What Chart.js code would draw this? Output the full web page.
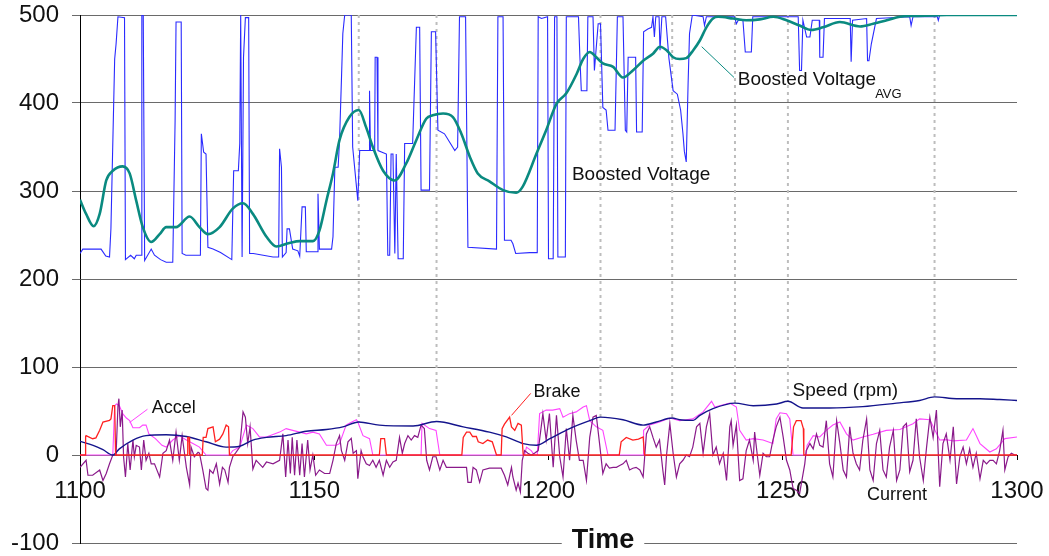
<!DOCTYPE html>
<html>
<head>
<meta charset="utf-8">
<script src="https://cdn.jsdelivr.net/npm/chart.js@4.4.0/dist/chart.umd.min.js"></script>
<style>
  html, body { margin: 0; padding: 0; background: #fff; }
  canvas { display: block; }
</style>
</head>
<body>
<canvas id="chart" width="1049" height="556"></canvas>
<script>
// [time, value] pairs
const boostedVoltage = [
  [1100.0,229],[1100.6,234],[1104.5,234],[1105.5,226],[1106.3,225],[1106.6,257],[1107.0,354],[1107.4,450],[1107.7,467],[1108.1,498],
  [1109.5,497],[1109.7,222],[1110.8,227],[1111.6,223],[1112.0,227],[1113.1,227],[1113.2,500],[1113.5,500],[1113.8,221],[1115.2,234],
  [1115.9,227],[1117.2,222],[1118.4,219],[1119.8,219],[1120.3,380],[1120.5,492],[1121.6,492],[1121.8,229],[1122.6,227],[1125.7,227],
  [1125.9,365],[1126.4,344],[1126.9,342],[1127.3,236],[1128.4,234],[1130.0,230],[1132.4,222],[1132.8,323],[1133.8,323],[1134.1,354],
  [1134.3,500],[1134.6,225],[1134.9,452],[1135.3,497],[1136.0,497],[1136.2,229],[1137.0,229],[1141.2,225],[1142.4,225],[1142.6,348],
  [1143.0,327],[1143.2,225],[1144.0,230],[1144.2,257],[1144.7,257],[1145.4,234],[1146.5,232],[1146.9,226],[1147.4,282],[1148.1,282],
  [1148.3,231],[1150.6,231],[1150.8,297],[1151.1,234],[1153.7,234],[1154.0,248],[1154.4,327],[1155.1,327],[1155.4,358],[1155.8,426],
  [1156.1,479],[1156.5,500],[1157.9,500],[1158.2,350],[1159.3,289],[1159.7,346],[1161.7,346],[1161.8,414],[1162.0,346],[1162.9,346],
  [1163.0,452],[1163.4,452],[1163.6,346],[1165.4,342],[1165.7,227],[1166.1,227],[1166.4,342],[1166.8,342],[1167.2,229],[1167.5,342],
  [1167.9,223],[1169.0,223],[1169.3,354],[1171.0,354],[1171.8,486],[1172.5,486],[1172.8,301],[1174.6,301],[1175.0,481],[1175.9,481],
  [1176.4,369],[1177.8,365],[1180.0,346],[1180.6,350],[1181.0,498],[1182.3,498],[1182.8,236],[1188.9,234],[1189.2,498],[1190.3,498],
  [1190.6,244],[1192.0,244],[1192.4,240],[1193.0,229],[1196.0,230],[1197.6,230],[1197.8,498],[1198.5,496],[1199.8,498],[1200.0,223],
  [1201.0,223],[1201.3,498],[1201.8,498],[1202.0,225],[1203.6,225],[1203.8,498],[1206.4,498],[1206.7,452],[1207.0,414],[1208.2,414],
  [1208.4,498],[1209.5,498],[1209.8,437],[1210.6,490],[1211.1,490],[1211.6,395],[1212.3,392],[1212.7,369],[1214.2,369],[1214.7,498],
  [1215.9,498],[1216.4,369],[1216.7,367],[1217.0,452],[1218.6,452],[1218.8,367],[1220.0,367],[1220.3,481],[1221.2,484],[1222.0,486],
  [1222.3,498],[1222.6,475],[1222.9,498],[1223.6,498],[1223.8,460],[1224.2,498],[1225.0,498],[1225.7,451],[1226.6,414],[1227.5,410],
  [1228.2,392],[1228.7,365],[1229.0,345],[1229.4,333],[1229.8,423],[1230.1,479],[1230.7,500],[1233.0,498],[1233.3,488],[1233.7,498],
  [1239.7,498],[1240.1,490],[1240.5,494],[1241.5,494],[1242.0,458],[1243.3,458],[1243.6,498],[1253.3,498],[1253.6,437],[1254.0,437],
  [1254.3,494],[1255.1,475],[1255.8,475],[1256.3,494],[1257.8,494],[1257.9,452],[1258.6,452],[1258.9,496],[1264.4,496],[1264.6,447],
  [1264.9,494],[1267.9,496],[1268.1,448],[1268.4,448],[1268.9,467],[1270.0,496],[1277.1,498],[1277.4,488],[1277.8,498],[1283.0,498],
  [1283.2,494],[1283.5,500],[1300.0,500]
];

const boostedVoltageAvg = [
  [1100,290],[1101.3,274],[1102.9,260],[1104.2,274],[1105.6,312],[1107,323],[1109.1,328],[1110.6,320],[1112,289],[1113.4,259],
  [1115.2,242],[1117,251],[1118.4,259],[1120.5,259],[1123.4,271],[1125.5,259],[1127.3,251],[1129.8,259],[1132.6,280],[1134.8,286],
  [1136.9,274],[1139.8,248],[1141.9,237],[1144.7,241],[1146.9,243],[1149.7,243],[1151.1,255],[1152.6,289],[1154,320],[1155.4,358],
  [1157.5,384],[1159.5,392],[1161.1,372],[1162.5,350],[1164.7,323],[1167.2,312],[1169.6,331],[1171.8,358],[1173.9,382],[1175.3,386],
  [1177.5,388],[1179.6,384],[1181.4,365],[1183.2,339],[1184.9,320],[1187.4,311],[1190.3,301],[1193.1,298],[1194.5,305],[1197.4,342],
  [1199.5,369],[1201.7,399],[1203.8,411],[1206,433],[1207.4,450],[1208.8,458],[1210.2,452],[1211.6,445],[1213.8,441],[1215.9,429],
  [1218,437],[1220.2,448],[1222.3,456],[1223.8,464],[1225.2,460],[1226.6,452],[1228,450],[1229.4,451],[1230.9,460],[1232.3,471],
  [1233.7,486],[1235.1,496],[1236.2,498],[1239.4,496],[1242.2,494],[1245.1,495],[1248,498],[1250.8,494],[1253.6,488],[1256.1,483],
  [1258.6,486],[1262.2,492],[1266.5,487],[1269.3,490],[1272.2,494],[1275,498],[1277.8,499],[1282.1,499.5],[1285,500],[1300,500]
];

const speedRpm = [
  [1100,15.5],[1102.8,11],[1104.9,6],[1107,0],[1108.4,7],[1111.3,17],[1114.1,22],[1118.4,23],[1122.7,21],[1126.9,15],
  [1131.2,9],[1134.1,10],[1136.9,17],[1139.8,20],[1144,22],[1148.3,27],[1152.6,29],[1156.1,32],[1159.5,37.5],[1163.9,34],
  [1171.1,33],[1176.1,38],[1181.8,32],[1187.4,26],[1191,20.5],[1194.6,13],[1197.4,11],[1200.3,18.5],[1204.5,30],[1208.8,39],
  [1211.1,43],[1215.9,40],[1220.2,34],[1223,37.5],[1226.4,42],[1228,40],[1230.9,39.4],[1232.3,45],[1235.1,52.7],[1239.8,59],
  [1243.7,56],[1248.7,58],[1251.1,61],[1254.3,53.4],[1260,53.4],[1267.1,55],[1274.3,59],[1279.2,62],[1282.4,66],[1287.1,64],
  [1292.1,64],[1296.3,63],[1300,62]
];

const brake = [
  [1100,0],[1101.1,0],[1101.2,21],[1101.3,22],[1102.7,18.5],[1103.4,19.5],[1104.2,28],[1104.9,37.5],[1106.3,39.4],[1106.6,41],
  [1107.0,56],[1107.4,56],[1107.6,0],[1122.9,0],[1123.0,20],[1123.3,20],[1123.4,0],[1126.1,0],[1126.3,20],[1126.9,20],
  [1127.3,30],[1128.4,32],[1128.9,15],[1129.8,18],[1130.5,24],[1131.2,34],[1131.7,32],[1131.9,0],[1163.9,0],[1164.2,18.5],
  [1165.0,18.5],[1165.4,0],[1181.5,0],[1181.8,20],[1182.5,26],[1183.2,26],[1183.8,21],[1184.6,21],[1185.0,15],[1186.0,13],
  [1187.0,17],[1188.0,15],[1188.9,0],[1189.9,0],[1190.1,30],[1190.6,35],[1191.7,43],[1192.1,32],[1192.8,28],[1193.5,36],
  [1194.2,34],[1194.6,0],[1215.1,0],[1215.5,15],[1216.6,20],[1218.0,17],[1219.2,18],[1220.2,20.5],[1220.5,0],[1251.8,0],
  [1252.3,32],[1252.9,39],[1253.9,39],[1254.4,30],[1254.5,0],[1300,0]
];

const accel = [
  [1100,0],[1107.0,0],[1107.4,56],[1107.8,58],[1108.4,56],[1109.1,47],[1109.9,42],[1110.6,39],[1111.3,31],[1112.7,31],
  [1113.4,34],[1114.1,34],[1114.7,24],[1116.1,18.6],[1117.5,11],[1118.4,9],[1119.8,17],[1121.2,22],[1122.7,17],[1124.1,13],
  [1125.5,9],[1126.9,0],[1131.9,0],[1132.6,5],[1134.1,9],[1135.5,34],[1136.9,30],[1138.3,20.5],[1139.8,20.5],[1142.6,26],
  [1144,30],[1145.4,28],[1146.9,26],[1148.3,24],[1149.7,26],[1151.1,24],[1152.6,11],[1154.7,11],[1155.4,13],[1156.8,34],
  [1157.5,36],[1159.0,40],[1159.3,37.5],[1160.4,22],[1161.8,18.6],[1162.5,0],[1172.8,0],[1173.0,36],[1174.6,30],[1176.0,28],
  [1176.8,0],[1194.9,0],[1195.3,9],[1196.3,5],[1197.0,0],[1197.6,0],[1198.1,47],[1199.5,51],[1200.9,51],[1202.4,52.7],
  [1203.1,43],[1204.5,47],[1205.9,49],[1207.4,54.5],[1208.1,56],[1208.8,39],[1210.2,32],[1211.6,28],[1212.7,0],[1220.2,0],
  [1220.3,28],[1221.6,34],[1223.7,37.5],[1225.9,42],[1228,39],[1230.8,41],[1233,49],[1234.8,61],[1235.5,54.5],[1236.5,56],
  [1238.7,59],[1240.1,54.5],[1240.8,28],[1242.2,17],[1243.7,18.6],[1245.8,17],[1247.9,13],[1248.6,41],[1249.4,48],[1250.8,47],
  [1251.5,41],[1252.2,0],[1255,0],[1255.2,11],[1256.5,22],[1257.9,20.5],[1259.3,28],[1260.7,34],[1262.2,37.5],[1263.6,24],
  [1265,17],[1267.1,20.5],[1269.3,23.5],[1272.1,28],[1275,29],[1277.8,35.6],[1279.2,41],[1281.4,40],[1283.5,17],[1284.9,17.5],
  [1286.4,16],[1289.2,17],[1290.6,30],[1292.1,13],[1294.2,3.4],[1295.6,7],[1297.4,18.6],[1300,20.5]
];

const current = [
  [1100.0,-14],[1101.3,-6],[1101.7,-23],[1102.7,-23],[1104.2,-17],[1104.9,-29],[1105.6,-21],[1106.3,-10],[1107.0,0],[1107.7,0],
  [1108.1,55],[1108.3,64],[1108.6,32],[1109.0,51],[1109.3,-2],[1109.7,-25],[1110.2,13],[1110.7,-17],[1111.3,17],[1111.6,-2],
  [1112.0,11],[1112.7,9],[1113.1,-17],[1113.6,17],[1114.1,-6],[1114.7,2],[1115.2,-10],[1115.9,-10],[1117.0,-25],[1117.7,2],
  [1118.4,5],[1119.1,17],[1119.8,-6],[1120.5,26],[1121.2,-6],[1121.8,22],[1122.3,2],[1122.7,-14],[1123.4,-34],[1123.7,9],
  [1124.4,-2],[1125.2,3],[1125.5,2],[1126.2,-17],[1126.9,-38],[1127.3,-40],[1127.7,-17],[1128.4,-21],[1129.1,-10],[1129.8,-33],
  [1130.4,-14],[1130.9,-17],[1131.6,-31],[1131.9,-14],[1132.6,-2],[1133.3,3],[1134.1,9],[1134.8,49],[1135.3,43],[1135.8,13],
  [1136.3,32],[1136.9,-16],[1137.6,-6],[1138.3,-10],[1139.0,-14],[1139.8,-8],[1141.2,-10],[1142.6,-6],[1143.3,24],[1143.9,-25],
  [1144.4,17],[1144.9,-21],[1145.3,20],[1145.8,-23],[1146.3,17],[1146.9,-23],[1147.4,13],[1147.9,-25],[1148.6,17],[1149.1,-17],
  [1149.7,0],[1150.3,-23],[1151.1,-17],[1152.2,-21],[1153.3,-21],[1154.0,-6],[1154.7,13],[1155.4,22],[1155.8,5],[1156.5,-6],
  [1157.2,15],[1157.9,19],[1158.3,2],[1159.0,5],[1159.3,-27],[1160.0,5],[1160.4,-2],[1161.1,-10],[1161.8,-12],[1162.5,-6],
  [1163.2,-14],[1163.9,-6],[1164.7,-23],[1165.4,-6],[1166.1,-14],[1166.8,-8],[1167.5,-6],[1168.2,20],[1168.8,2],[1169.3,13],
  [1170.0,22],[1170.7,17],[1171.4,22],[1172.1,20],[1172.8,34],[1173.5,30],[1174.0,-6],[1174.6,-17],[1175.3,-2],[1176.0,-2],
  [1176.8,-17],[1177.5,-6],[1178.2,-14],[1181.7,-14],[1182.5,-14],[1182.8,-31],[1183.5,-31],[1183.9,-14],[1184.6,-17],[1185.3,-31],
  [1186.0,-17],[1187.4,-15],[1189.9,-15],[1190.6,-23],[1191.3,-34],[1192.1,-14],[1192.4,-25],[1193.1,-40],[1193.5,-32],[1194.0,-42],
  [1194.4,-6],[1194.9,5],[1195.6,2],[1196.3,0],[1197.0,2],[1197.8,5],[1198.8,47],[1199.5,17],[1200.2,47],[1201.0,-14],
  [1201.7,45],[1202.4,-2],[1203.1,-25],[1203.8,30],[1204.5,-6],[1205.2,45],[1205.9,17],[1206.6,-6],[1207.4,-6],[1208.1,-29],
  [1208.8,20],[1209.5,43],[1210.2,45],[1210.9,13],[1211.6,-21],[1212.3,-10],[1213.0,-15],[1213.8,-14],[1214.5,-14],[1215.2,-12],
  [1215.9,-10],[1216.6,-6],[1217.3,-17],[1218.0,-15],[1218.7,-14],[1219.5,-17],[1220.2,-25],[1220.9,24],[1221.6,32],[1222.3,20],
  [1223.0,9],[1223.7,17],[1224.4,-17],[1224.8,-34],[1225.2,0],[1225.9,36],[1226.6,2],[1227.3,-25],[1228.0,-10],[1228.7,-6],
  [1229.4,0],[1230.1,-2],[1230.8,9],[1231.6,32],[1232.3,36],[1233.0,2],[1233.7,32],[1234.4,47],[1235.1,0],[1235.8,9],
  [1236.5,-10],[1237.3,2],[1238.0,-29],[1238.7,32],[1239.0,39],[1239.4,11],[1240.1,34],[1240.8,-29],[1241.5,-27],[1242.2,5],
  [1242.9,17],[1243.7,-6],[1244.0,26],[1244.7,-6],[1245.1,-23],[1245.8,2],[1246.5,-2],[1247.2,-2],[1247.9,17],[1248.6,32],
  [1249.4,43],[1250.1,20],[1250.8,-6],[1251.5,-17],[1252.2,-38],[1252.9,-40],[1253.6,-44],[1254.7,-10],[1255.0,5],[1255.8,13],
  [1256.5,7],[1257.2,24],[1257.9,11],[1258.6,9],[1259.3,39],[1260.0,-10],[1260.7,-25],[1261.5,39],[1262.2,13],[1262.9,-17],
  [1263.6,-25],[1264.3,32],[1265.0,2],[1265.7,-10],[1266.4,-17],[1267.1,17],[1267.9,41],[1268.6,-17],[1269.3,-29],[1270.0,13],
  [1270.7,28],[1271.4,-17],[1272.1,-25],[1272.8,9],[1273.6,28],[1274.3,-29],[1275.0,-17],[1275.7,32],[1276.4,36],[1277.1,-19],
  [1277.8,-6],[1278.5,41],[1279.2,-2],[1280.0,-29],[1280.7,9],[1281.4,43],[1282.1,20],[1282.8,51],[1283.5,-36],[1284.2,13],
  [1284.9,24],[1285.7,-6],[1286.4,32],[1287.1,-33],[1287.8,-2],[1288.5,9],[1289.2,-10],[1289.9,7],[1290.6,-14],[1291.3,2],
  [1292.1,-27],[1292.8,-6],[1293.5,-10],[1294.2,-6],[1294.9,-6],[1295.6,-10],[1296.3,5],[1297.0,28],[1297.4,-17],[1298.1,-2],
  [1298.8,2],[1299.5,0],[1300.0,0]
];

// dotted drop lines from the top down to the speed peaks
const dropTimes = [1159.5, 1176.1, 1211.1, 1226.4, 1239.8, 1251.1, 1282.4];
const dropBottoms = [37.5, 38, 43, 42, 59, 61, 66];

const yTicks = [-100, 0, 100, 200, 300, 400, 500];
const xTicks = [1100, 1150, 1200, 1250, 1300];

// in-chart labels, anchored in data units
const notes = [
  { text: 'Boosted Voltage', t: 1205.0, v: 318, size: 19 },
  { text: 'Boosted Voltage', sub: 'AVG', t: 1240.4, v: 426, size: 19 },
  { text: 'Accel', t: 1115.3, v: 53, size: 18 },
  { text: 'Brake', t: 1196.8, v: 71, size: 18 },
  { text: 'Speed (rpm)', t: 1252.1, v: 73.5, size: 19 },
  { text: 'Current', t: 1268.0, v: -46, size: 18 }
];
const leaders = [
  { color: '#0a8a80', from: [1239.6, 429], to: [1232.7, 464] },
  { color: '#ff44ff', from: [1114.4, 52], to: [1110.6, 37] },
  { color: '#ff2020', from: [1196.2, 70], to: [1192.1, 45] }
];

const FONT = "'Liberation Sans', Arial, sans-serif";

const toXY = pts => pts.map(p => ({ x: p[0], y: p[1] }));

const dropData = [];
dropTimes.forEach((t, i) => {
  dropData.push({ x: t, y: 500 }, { x: t, y: dropBottoms[i] }, { x: t, y: null });
});

function series(label, pts, color, width, extra) {
  return Object.assign({
    label: label,
    data: toXY(pts),
    borderColor: color,
    borderWidth: width,
    pointRadius: 0,
    fill: false,
    tension: 0
  }, extra || {});
}

const notesPlugin = {
  id: 'notes',
  afterDatasetsDraw(chart) {
    const ctx = chart.ctx;
    const xs = chart.scales.x, ys = chart.scales.y;
    ctx.save();
    leaders.forEach(l => {
      ctx.strokeStyle = l.color;
      ctx.lineWidth = 1;
      ctx.beginPath();
      ctx.moveTo(xs.getPixelForValue(l.from[0]), ys.getPixelForValue(l.from[1]));
      ctx.lineTo(xs.getPixelForValue(l.to[0]), ys.getPixelForValue(l.to[1]));
      ctx.stroke();
    });
    ctx.fillStyle = '#111';
    ctx.textAlign = 'left';
    ctx.textBaseline = 'middle';
    notes.forEach(n => {
      const px = xs.getPixelForValue(n.t), py = ys.getPixelForValue(n.v);
      ctx.font = n.size + 'px ' + FONT;
      ctx.fillText(n.text, px, py);
      if (n.sub) {
        const w = ctx.measureText(n.text).width;
        ctx.font = '13px ' + FONT;
        ctx.fillText(n.sub, px + w - 1, py + 14);
      }
    });
    // axis title, sitting on the bottom grid line
    const area = chart.chartArea;
    const cx = area.left + 523, cy = area.bottom - 2;
    ctx.font = 'bold 27px ' + FONT;
    const tw = ctx.measureText('Time').width;
    ctx.fillStyle = '#fff';
    ctx.fillRect(cx - tw / 2 - 10, cy - 14, tw + 20, 24);
    ctx.fillStyle = '#111';
    ctx.textAlign = 'center';
    ctx.fillText('Time', cx, cy);
    ctx.restore();
  }
};

new Chart(document.getElementById('chart'), {
  type: 'line',
  data: {
    datasets: [
      series('Boosted Voltage AVG', boostedVoltageAvg, '#0a8a80', 2.6, { cubicInterpolationMode: 'monotone' }),
      series('Boosted Voltage', boostedVoltage, '#2a2aff', 1.1),
      series('Brake', brake, '#ff2020', 1.3),
      series('Speed (rpm)', speedRpm, '#14148c', 1.4, { cubicInterpolationMode: 'monotone' }),
      series('Current', current, '#8a1a8a', 1.2),
      series('Accel', accel, '#ff44ff', 1.1),
      series('drop', [], '#bdbdbd', 2, { data: dropData, borderDash: [3, 4], spanGaps: false })
    ]
  },
  options: {
    responsive: false,
    animation: false,
    events: [],
    layout: { padding: { top: 15, right: 32, bottom: 13, left: 0 } },
    plugins: { legend: { display: false }, tooltip: { enabled: false } },
    scales: {
      x: {
        type: 'linear',
        min: 1100,
        max: 1300,
        position: { y: 0 },
        afterBuildTicks: s => { s.ticks = xTicks.map(v => ({ value: v })); },
        afterFit: s => { s.paddingLeft = 0; s.paddingRight = 0; },
        ticks: { color: '#111', font: { size: 24, family: FONT }, padding: 17, maxRotation: 0, autoSkip: false,
                 callback: v => String(v) },
        grid: { drawOnChartArea: false, drawTicks: true, tickLength: 5, tickColor: '#000' },
        border: { display: false }
      },
      y: {
        min: -100,
        max: 500,
        afterBuildTicks: s => { s.ticks = yTicks.map(v => ({ value: v })); },
        afterFit: s => { s.width = 80; s.paddingTop = 0; s.paddingBottom = 0; },
        ticks: { color: '#111', font: { size: 24, family: FONT }, padding: 13, callback: v => String(v) },
        grid: { color: '#6a6a6a', lineWidth: 1, tickLength: 8, drawTicks: true },
        border: { display: true, color: '#000', width: 1 }
      }
    }
  },
  plugins: [notesPlugin]
});
</script>
</body>
</html>
